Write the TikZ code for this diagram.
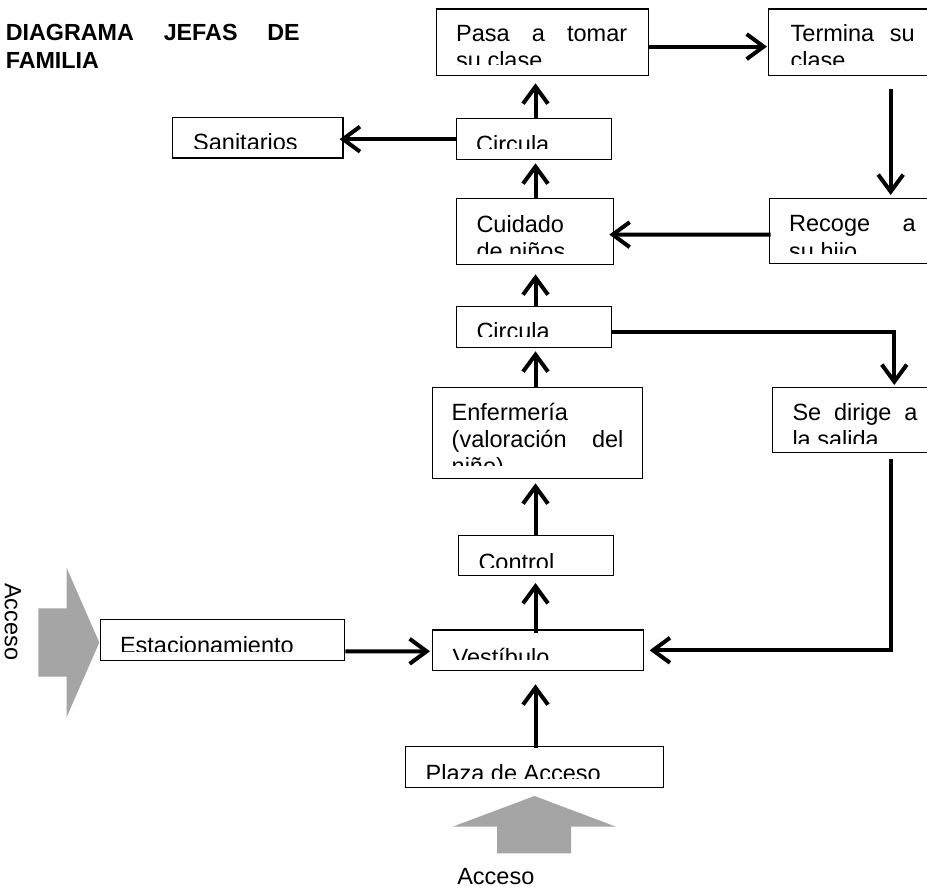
\documentclass[tikz,border=0pt]{standalone}
\usepackage{fontspec}
\setmainfont{Liberation Sans}
\usetikzlibrary{arrows.meta,calc}
\definecolor{accgray}{RGB}{165,165,165}
\tikzset{
  boxst/.style={draw, line width=1.3pt, fill=white, inner sep=0pt, anchor=north west},
  txt/.style={inner sep=0pt, anchor=base west, font=\fontsize{23.5}{27.3}\selectfont},
  ttl/.style={inner sep=0pt, anchor=base west, font=\fontsize{23.3}{27.3}\selectfont\bfseries},
  arr/.style={line width=4pt, -{Straight Barb[length=17pt,width=25pt]}},
  entry/.style={fill=accgray, draw=none}
}
% clip the text of a box a little above its lower edge
\newcommand\textclip[2]{\clip ([shift={(0.7pt,#2pt)}]#1.south west) rectangle ([shift={(-0.7pt,-0.7pt)}]#1.north east);}
\begin{document}
\begin{tikzpicture}[x=1pt,y=-1pt]
\clip (0,0) rectangle (927,888);
\fill[white] (0,0) rectangle (927,888);

% title
\node[ttl] (title1) at (5.6,41) {\makebox[294pt][s]{DIAGRAMA JEFAS DE}};
\node[ttl] (title2) at ([yshift=-27.3pt]title1.base west) {FAMILIA};

% boxes
\node[boxst, minimum width=170.6pt, minimum height=40.6pt] (sanit)   at (171.7,116.7) {};
\node[boxst, minimum width=212pt,   minimum height=66.7pt] (pasa)    at (436,8.3) {};
\node[boxst, minimum width=170pt,   minimum height=66.7pt] (termina) at (768,8.3) {};
\node[boxst, minimum width=155pt,   minimum height=41pt]   (circ1)   at (456,118) {};
\node[boxst, minimum width=157pt,   minimum height=66pt]   (cuidado) at (456,198) {};
\node[boxst, minimum width=170pt,   minimum height=65.3pt] (recoge)  at (769,197.7) {};
\node[boxst, minimum width=155pt,   minimum height=40.7pt] (circ2)   at (456,306) {};
\node[boxst, minimum width=170pt,   minimum height=65pt]   (salida)  at (772,387) {};
\node[boxst, minimum width=210pt,   minimum height=90.7pt] (enferm)  at (432,387) {};
\node[boxst, minimum width=154.7pt, minimum height=40pt]   (control) at (458,535) {};
\node[boxst, minimum width=211.3pt, minimum height=40.7pt] (vestib)  at (431.7,629.3) {};
\node[boxst, minimum width=244pt,   minimum height=41pt]   (estac)   at (100,619) {};
\node[boxst, minimum width=258pt,   minimum height=41pt]   (plaza)   at (405,745.7) {};

% box texts
\begin{scope}\textclip{sanit}{9.6}
\node[txt] (sanit-1) at ([shift={(21.3pt,-33.4pt)}]sanit.north west) {Sanitarios};
\end{scope}
\begin{scope}\textclip{pasa}{11.7}
\node[txt] (pasa-1) at ([shift={(20pt,-33.4pt)}]pasa.north west) {\makebox[171pt][s]{Pasa a tomar}};
\node[txt] (pasa-2) at ([yshift=-27.3pt]pasa-1.base west) {su clase};
\end{scope}
\begin{scope}\textclip{termina}{11.7}
\node[txt] (termina-1) at ([shift={(22.5pt,-33.4pt)}]termina.north west) {\makebox[124pt][s]{Termina su}};
\node[txt] (termina-2) at ([yshift=-27.3pt]termina-1.base west) {clase};
\end{scope}
\begin{scope}\textclip{circ1}{11.3}
\node[txt] (circ1-1) at ([shift={(20pt,-34.8pt)}]circ1.north west) {Circula};
\end{scope}
\begin{scope}\textclip{cuidado}{11.7}
\node[txt] (cuidado-1) at ([shift={(20.3pt,-34.3pt)}]cuidado.north west) {Cuidado};
\node[txt] (cuidado-2) at ([yshift=-27.3pt]cuidado-1.base west) {de niños};
\end{scope}
\begin{scope}\textclip{recoge}{11.3}
\node[txt] (recoge-1) at ([shift={(20pt,-34pt)}]recoge.north west) {\makebox[126.5pt][s]{Recoge a}};
\node[txt] (recoge-2) at ([yshift=-27.3pt]recoge-1.base west) {su hijo};
\end{scope}
\begin{scope}\textclip{circ2}{11.7}
\node[txt] (circ2-1) at ([shift={(20.3pt,-33.5pt)}]circ2.north west) {Circula};
\end{scope}
\begin{scope}\textclip{salida}{10.3}
\node[txt] (salida-1) at ([shift={(20.3pt,-33pt)}]salida.north west) {\makebox[125pt][s]{Se dirige a}};
\node[txt] (salida-2) at ([yshift=-27.3pt]salida-1.base west) {la salida};
\end{scope}
\begin{scope}\textclip{enferm}{13.4}
\node[txt] (enferm-1) at ([shift={(19.5pt,-33pt)}]enferm.north west) {Enfermería};
\node[txt] (enferm-2) at ([yshift=-27.3pt]enferm-1.base west) {\makebox[171.8pt][s]{(valoración del}};
\node[txt] (enferm-3) at ([yshift=-27.3pt]enferm-2.base west) {niño)};
\end{scope}
\begin{scope}\textclip{control}{9.3}
\node[txt] (control-1) at ([shift={(20.3pt,-35pt)}]control.north west) {Control};
\end{scope}
\begin{scope}\textclip{vestib}{12.3}
\node[txt] (vestib-1) at ([shift={(20.8pt,-35.7pt)}]vestib.north west) {Vestíbulo};
\end{scope}
\begin{scope}\textclip{estac}{10}
\node[txt] (estac-1) at ([shift={(19.8pt,-34.5pt)}]estac.north west) {Estacionamiento};
\end{scope}
\begin{scope}\textclip{plaza}{10}
\node[txt] (plaza-1) at ([shift={(20.5pt,-35.3pt)}]plaza.north west) {Plaza de Acceso};
\end{scope}

% guide lines for the vertical runs
\coordinate (spine) at (535.5,0);
\coordinate (rspine) at (890.7,0);
\coordinate (c2out) at ($(circ2.east)+(0,5.3)$);
\coordinate (turn) at ($(c2out)+(282,0)$);

% central column, bottom to top
\draw[arr] ($(plaza.north -| spine)+(0,2)$)   -- ($(vestib.south -| spine)+(0,13)$);
\draw[arr] ($(vestib.north -| spine)+(0,4)$)  -- ($(control.south -| spine)+(0,6.7)$);
\draw[arr] (control.north -| spine)           -- ($(enferm.south -| spine)+(0,4.3)$);
\draw[arr] (enferm.north -| spine)            -- ($(circ2.south -| spine)+(0,3.3)$);
\draw[arr] (circ2.north -| spine)             -- ($(cuidado.south -| spine)+(0,9)$);
\draw[arr] (cuidado.north -| spine)           -- ($(circ1.south -| spine)+(0,3)$);
\draw[arr] (circ1.north -| spine)             -- ($(pasa.south -| spine)+(0,7)$);

% side branches
\draw[arr] (circ1.west) -- ($(circ1.west -| sanit.east)+(-4,0)$);
\draw[arr] ($(pasa.east)+(0,4.3)$) -- ($(termina.west)+(-1,4.3)$);
\draw[arr] ($(termina.south -| rspine)+(0,12.7)$) -- ($(recoge.north -| rspine)+(0,-2.7)$);
\draw[arr] ($(recoge.west)+(1.7,3.6)$) -- ($(cuidado.east)+(-5,3)$);
\draw[arr, line join=miter] (c2out) -- (turn) -- ($(turn |- salida.north)+(0,-2)$);
\draw[arr, line join=miter] ($(salida.south -| rspine)+(0,6)$) -- (rspine |- vestib.east) -- ($(vestib.east)+(5.3,0)$);
\draw[arr] ($(estac.east)+(0,11.2)$) -- ($(vestib.west)+(-1.7,1)$);

% entrance arrows
\fill[entry] (38.3,608.3) -- (66.7,608.3) -- (66.7,568) -- (99.3,642.5)
  -- (66.7,717) -- (66.7,676.7) -- (38.3,676.7) -- cycle;
\fill[entry] (497,853.3) -- (497,826.7) -- (452.7,826.7) -- (534.5,796)
  -- (616,826.7) -- (571,826.7) -- (571,853.3) -- cycle;
\node[txt, rotate=-90] (acc-left) at (5,583) {Acceso};
\node[txt, anchor=base] (acc-bottom) at (495.8,884.3) {Acceso};
\end{tikzpicture}
\end{document}
